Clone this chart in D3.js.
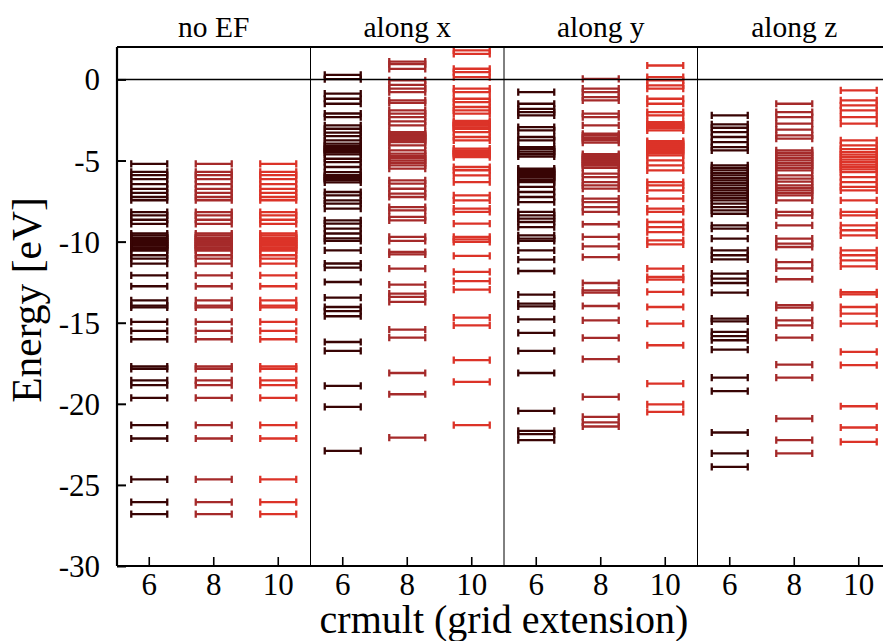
<!DOCTYPE html>
<html><head><meta charset="utf-8">
<script src="https://cdn.jsdelivr.net/npm/d3@7"></script>
<style>body{margin:0;background:#fff} svg{display:block;font-family:"Liberation Serif","Times New Roman",serif}</style>
</head><body><svg id="c" width="883" height="641"></svg>
<script>
// ---------------- data ----------------
const panels = ["no EF", "along x", "along y", "along z"];
const crmult = ["6", "8", "10"];
const yTicks = [0, -5, -10, -15, -20, -25, -30];
const seriesColors = ["#380404", "#a52a2a", "#dc3328"];

const noEF_6 = [-5.2,-5.7,-5.9,-6.15,-6.45,-6.75,-7.0,-7.25,-7.45,-8.18,-8.38,-8.65,-8.9,-9.5,-9.62,-9.75,-9.85,-9.95,-10.05,-10.15,-10.25,-10.35,-10.45,-10.55,-10.84,-11.05,-11.36,-12.08,-12.75,-13.62,-13.95,-14.05,-14.95,-15.5,-16.02,-17.7,-17.85,-18.55,-18.85,-19.63,-21.32,-22.14,-24.66,-26.06,-26.8];
const noEF_8 = [-5.2,-5.7,-5.9,-6.15,-6.45,-6.75,-7.0,-7.25,-7.45,-8.18,-8.38,-8.65,-8.9,-9.5,-9.62,-9.75,-9.85,-9.95,-10.05,-10.15,-10.25,-10.35,-10.45,-10.55,-10.84,-11.05,-11.36,-12.08,-12.75,-13.62,-13.95,-14.05,-14.95,-15.5,-16.02,-17.7,-17.85,-18.55,-18.85,-19.63,-21.32,-22.14,-24.66,-26.06,-26.8];
const noEF_10 = [-5.2,-5.7,-5.9,-6.15,-6.45,-6.75,-7.0,-7.25,-7.45,-8.18,-8.38,-8.65,-8.9,-9.5,-9.62,-9.75,-9.85,-9.95,-10.05,-10.15,-10.25,-10.35,-10.45,-10.55,-10.84,-11.05,-11.36,-12.08,-12.75,-13.62,-13.95,-14.05,-14.95,-15.5,-16.02,-17.7,-17.85,-18.55,-18.85,-19.63,-21.32,-22.14,-24.66,-26.06,-26.8];

const alongX_6 = [0.28,0.02,-0.88,-1.19,-1.5,-2.1,-2.32,-2.83,-3.04,-3.28,-3.49,-3.76,-3.96,-4.1,-4.2,-4.3,-4.4,-4.5,-4.62,-4.89,-5.1,-5.4,-5.71,-5.9,-6.0,-6.1,-6.2,-6.35,-6.94,-7.15,-7.46,-7.66,-7.97,-8.69,-8.89,-9.2,-9.5,-9.8,-9.95,-10.54,-11.35,-11.6,-12.49,-13.45,-14.03,-14.29,-14.6,-16.19,-16.74,-18.9,-20.19,-22.9];
const alongX_8 = [1.1,0.95,0.65,-0.06,-0.33,-0.57,-0.78,-1.29,-1.44,-1.91,-2.11,-2.32,-2.58,-2.83,-3.25,-3.35,-3.45,-3.55,-3.65,-3.75,-3.86,-4.07,-4.37,-4.58,-4.72,-4.86,-5.0,-5.15,-5.3,-5.5,-6.22,-6.43,-6.74,-7.04,-7.25,-7.87,-8.07,-8.48,-8.69,-9.71,-9.95,-10.64,-10.78,-11.66,-12.65,-13.2,-13.41,-13.72,-15.42,-15.92,-18.1,-19.41,-22.08];
const alongX_10 = [1.79,1.58,0.66,0.45,0.14,-0.57,-0.78,-1.19,-1.4,-1.7,-1.91,-2.11,-2.55,-2.65,-2.75,-2.85,-2.95,-3.04,-3.25,-3.55,-3.76,-4.27,-4.37,-4.47,-4.57,-4.67,-4.79,-5.4,-5.6,-5.92,-6.33,-7.15,-7.46,-7.97,-8.17,-8.89,-9.71,-9.86,-10.02,-10.88,-11.87,-12.43,-12.96,-14.68,-15.16,-17.31,-18.65,-21.32];

const alongY_6 = [-0.78,-1.5,-1.81,-2.01,-2.22,-2.94,-3.14,-3.55,-3.76,-4.17,-4.3,-4.45,-4.6,-4.75,-5.5,-5.6,-5.72,-5.83,-5.95,-6.05,-6.2,-6.33,-6.63,-6.94,-7.25,-7.56,-8.17,-8.38,-8.58,-8.79,-9.1,-9.61,-9.82,-9.95,-10.54,-11.11,-11.81,-13.27,-13.82,-13.99,-14.79,-15.63,-16.74,-18.1,-20.44,-21.67,-21.87,-22.24];
const alongY_8 = [0.04,-0.57,-0.78,-1.09,-1.29,-2.11,-2.32,-2.83,-3.35,-3.47,-3.6,-3.75,-3.9,-4.6,-4.72,-4.84,-4.96,-5.08,-5.2,-5.32,-5.45,-5.81,-6.02,-6.33,-6.53,-6.73,-7.35,-7.56,-7.87,-8.17,-8.93,-9.71,-10.29,-10.95,-12.55,-13.0,-13.15,-13.97,-14.85,-15.94,-17.25,-19.57,-20.8,-21.15,-21.4];
const alongY_10 = [0.86,0.14,-0.06,-0.37,-0.57,-1.19,-1.5,-2.01,-2.22,-2.63,-2.75,-2.87,-3.0,-3.14,-3.8,-3.92,-4.04,-4.16,-4.28,-4.4,-4.55,-4.68,-4.99,-5.3,-5.61,-6.33,-6.53,-6.84,-7.35,-7.97,-8.17,-8.79,-9.1,-9.41,-9.92,-10.17,-11.66,-12.18,-12.34,-13.1,-14.03,-15.05,-16.39,-18.75,-20.04,-20.5];

const alongZ_6 = [-2.22,-2.77,-2.98,-3.25,-3.55,-3.86,-4.17,-4.37,-5.3,-5.45,-5.61,-5.78,-5.92,-6.08,-6.22,-6.38,-6.53,-6.7,-6.84,-7.0,-7.15,-7.3,-7.46,-7.66,-7.87,-8.07,-8.28,-9.0,-9.2,-9.82,-10.54,-10.84,-11.1,-11.97,-12.28,-12.55,-13.14,-14.75,-14.92,-15.57,-15.83,-16.08,-16.66,-18.38,-19.22,-21.77,-23.06,-23.89];
const alongZ_8 = [-1.5,-2.01,-2.32,-2.73,-3.1,-3.45,-3.65,-4.37,-4.52,-4.68,-4.84,-4.99,-5.15,-5.3,-5.45,-5.61,-5.92,-6.12,-6.3,-6.53,-6.68,-6.84,-7.0,-7.15,-7.46,-8.17,-8.38,-9.0,-9.82,-10.12,-10.33,-11.26,-11.65,-12.32,-13.92,-14.07,-14.85,-15.16,-15.92,-17.58,-18.38,-20.91,-22.24,-23.06];
const alongZ_10 = [-0.68,-1.29,-1.6,-1.91,-2.32,-2.73,-3.76,-4.07,-4.3,-4.48,-4.63,-4.79,-4.95,-5.1,-5.25,-5.4,-5.55,-5.71,-6.02,-6.33,-6.63,-6.84,-7.46,-8.17,-8.38,-9.0,-9.3,-9.61,-10.54,-10.84,-11.15,-11.52,-13.12,-13.25,-14.03,-14.44,-15.05,-16.8,-17.62,-20.15,-21.46,-22.35];

const levelSets = [
  [noEF_6, noEF_8, noEF_10],
  [alongX_6, alongX_8, alongX_10],
  [alongY_6, alongY_8, alongY_10],
  [alongZ_6, alongZ_8, alongZ_10]
];

// ---------------- layout ----------------
const L = 117, R = 891, T = 47, B = 566;
const svg = d3.select("#c");
const y = d3.scaleLinear().domain([-30, 2]).range([B, T]);
const xPanel = d3.scaleBand().domain(panels).range([L, R]);
const xCat = d3.scaleBand().domain(crmult).range([0, xPanel.bandwidth()]);

svg.append("defs").append("clipPath").attr("id", "clip")
  .append("rect").attr("x", L).attr("y", T).attr("width", R - L).attr("height", B - T);

// levels
const half = 18, capH = 3.6;
const plot = svg.append("g").attr("clip-path", "url(#clip)");
panels.forEach((p, pi) => {
  crmult.forEach((c, ci) => {
    const cx = xPanel(p) + xCat(c) + xCat.bandwidth() / 2;
    plot.append("g").selectAll("path").data(levelSets[pi][ci]).join("path")
      .attr("d", e => {
        const yy = y(e);
        return `M${cx - half},${yy}H${cx + half}M${cx - half},${yy - capH}V${yy + capH}M${cx + half},${yy - capH}V${yy + capH}`;
      })
      .attr("fill", "none")
      .attr("stroke", seriesColors[ci])
      .attr("stroke-width", 2.3);
  });
});

// zero line
svg.append("line").attr("x1", L).attr("x2", R).attr("y1", y(0)).attr("y2", y(0))
  .attr("stroke", "#000").attr("stroke-width", 1.4);

// panel separators
panels.slice(1).forEach(p => {
  svg.append("line").attr("x1", xPanel(p)).attr("x2", xPanel(p)).attr("y1", T).attr("y2", B)
    .attr("stroke", "#000").attr("stroke-width", 1);
});

// frame
svg.append("line").attr("x1", L).attr("x2", R).attr("y1", T).attr("y2", T).attr("stroke", "#000").attr("stroke-width", 2);
svg.append("line").attr("x1", L).attr("x2", R).attr("y1", B).attr("y2", B).attr("stroke", "#000").attr("stroke-width", 2.2);
svg.append("line").attr("x1", L).attr("x2", L).attr("y1", T).attr("y2", B).attr("stroke", "#000").attr("stroke-width", 2.2);

// y axis
const yAxis = svg.append("g").attr("transform", `translate(${L},0)`)
  .call(d3.axisLeft(y).tickValues(yTicks).tickSize(-9).tickSizeOuter(0).tickPadding(17)
    .tickFormat(d => d === 0 ? "0" : "-" + Math.abs(d)));
yAxis.select(".domain").remove();
yAxis.selectAll(".tick line").attr("stroke-width", 2);
yAxis.selectAll(".tick text")
  .attr("dy", "0.34em")
  .attr("font-size", 31).attr("fill", "#000")
  .attr("font-family", "Liberation Serif");

// x axes (one per panel)
panels.forEach(p => {
  const ax = svg.append("g").attr("transform", `translate(${xPanel(p)},${B})`)
    .call(d3.axisBottom(xCat).tickSize(-9).tickSizeOuter(0).tickPadding(0));
  ax.select(".domain").remove();
  ax.selectAll(".tick line").attr("stroke-width", 1.6);
  ax.selectAll(".tick text")
    .attr("y", 29).attr("dy", 0)
    .attr("font-size", 31).attr("fill", "#000")
    .attr("font-family", "Liberation Serif");
});

// panel titles
panels.forEach(p => {
  svg.append("text")
    .attr("x", xPanel(p) + xPanel.bandwidth() / 2).attr("y", 37)
    .attr("text-anchor", "middle").attr("font-size", 29.5).text(p);
});

// axis labels
svg.append("text")
  .attr("x", (L + R) / 2).attr("y", 633)
  .attr("text-anchor", "middle").attr("font-size", 40).text("crmult (grid extension)");
svg.append("text")
  .attr("transform", `translate(41,300) rotate(-90)`)
  .attr("text-anchor", "middle").attr("font-size", 41.5).text("Energy [eV]");
</script></body></html>
